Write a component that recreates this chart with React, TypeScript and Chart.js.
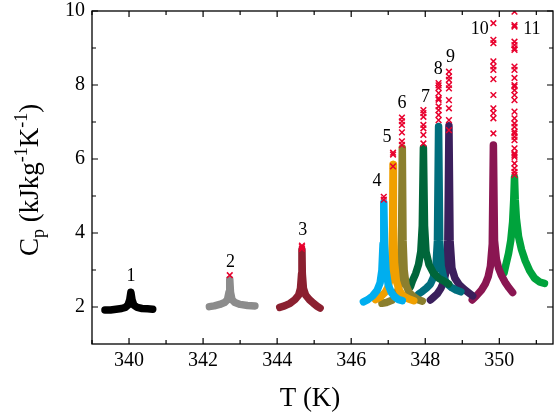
import { useEffect, useRef } from "react";
import { Chart, registerables } from "chart.js";

Chart.register(...registerables);

// Axis ticks
const xTicks = [340, 342, 344, 346, 348, 350];
const xMinorTicks = [339, 341, 343, 345, 347, 349, 351];
const yTicks = [2, 4, 6, 8, 10];
const yMinorTicks = [3, 5, 7, 9];

// Run labels and colours
const runLabels = ["1", "2", "3", "4", "5", "6", "7", "8", "9", "10", "11"];
const runColors = [
  "#000000", "#8c8c8c", "#8b2030", "#00aeef", "#f0a000", "#8b7f2e",
  "#00663a", "#006e7d", "#3b1f5c", "#8a1652", "#00a33c",
];

// Heat capacity curves: temperature (K) and Cp (kJ kg^-1 K^-1)
const t1 = [339.35, 339.5, 339.65, 339.8, 339.9, 339.97, 340.02, 340.05, 340.08, 340.13, 340.22, 340.35, 340.5, 340.64];
const cp1 = [1.92, 1.92, 1.94, 1.96, 1.99, 2.05, 2.2, 2.4, 2.2, 2.05, 1.99, 1.96, 1.95, 1.94];

const t2 = [342.17, 342.3, 342.45, 342.58, 342.66, 342.7, 342.72, 342.74, 342.78, 342.86, 343.0, 343.2, 343.4];
const cp2 = [2.01, 2.03, 2.07, 2.12, 2.2, 2.4, 2.75, 2.4, 2.2, 2.12, 2.07, 2.04, 2.03];

const t3 = [344.07, 344.2, 344.35, 344.48, 344.58, 344.63, 344.66, 344.67, 344.68, 344.71, 344.77, 344.87, 344.98, 345.08, 345.16];
const cp3 = [1.99, 2.03, 2.1, 2.2, 2.32, 2.5, 2.9, 3.55, 2.9, 2.5, 2.32, 2.2, 2.1, 2.02, 1.97];

const t4 = [346.33, 346.45, 346.58, 346.7, 346.78, 346.83, 346.86, 346.88, 346.9, 346.94, 347.0, 347.08, 347.17, 347.28, 347.38];
const cp4 = [2.14, 2.2, 2.3, 2.45, 2.65, 3.0, 3.7, 4.82, 3.7, 3.0, 2.6, 2.4, 2.28, 2.2, 2.17];

const t5 = [346.65, 346.8, 346.92, 347.0, 347.06, 347.1, 347.12, 347.13, 347.14, 347.17, 347.22, 347.3, 347.4, 347.55, 347.69];
const cp5 = [2.2, 2.28, 2.4, 2.55, 2.8, 3.3, 4.2, 5.85, 4.2, 3.2, 2.7, 2.45, 2.3, 2.22, 2.17];

const t6 = [346.83, 346.95, 347.1, 347.2, 347.28, 347.33, 347.36, 347.38, 347.4, 347.43, 347.48, 347.56, 347.66, 347.8, 347.92];
const cp6 = [2.1, 2.12, 2.18, 2.3, 2.5, 2.9, 3.8, 6.3, 3.8, 3.0, 2.6, 2.4, 2.3, 2.2, 2.16];

const t7 = [347.6, 347.66, 347.74, 347.82, 347.88, 347.92, 347.95, 347.98, 348.02, 348.1, 348.22, 348.36, 348.5, 348.63];
const cp7 = [2.55, 2.72, 2.9, 3.15, 3.5, 4.2, 6.3, 4.2, 3.5, 3.15, 2.92, 2.78, 2.7, 2.62];

const t8 = [347.82, 347.92, 348.04, 348.14, 348.22, 348.29, 348.33, 348.36, 348.39, 348.43, 348.5, 348.6, 348.72, 348.85, 348.96];
const cp8 = [2.35, 2.42, 2.52, 2.62, 2.8, 3.1, 3.8, 6.88, 3.8, 3.1, 2.78, 2.62, 2.52, 2.45, 2.41];

const t9 = [348.14, 348.22, 348.32, 348.42, 348.5, 348.57, 348.61, 348.64, 348.67, 348.72, 348.8, 348.92, 349.05, 349.18, 349.28];
const cp9 = [2.19, 2.26, 2.35, 2.5, 2.68, 3.0, 3.8, 6.9, 3.8, 3.05, 2.78, 2.6, 2.48, 2.38, 2.3];

const t10 = [349.27, 349.38, 349.52, 349.62, 349.7, 349.76, 349.81, 349.84, 349.87, 349.92, 349.98, 350.06, 350.15, 350.26, 350.36];
const cp10 = [2.19, 2.3, 2.46, 2.62, 2.82, 3.1, 3.7, 6.38, 3.8, 3.3, 3.05, 2.85, 2.68, 2.52, 2.39];

const t11 = [350.13, 350.18, 350.25, 350.31, 350.36, 350.39, 350.41, 350.43, 350.46, 350.52, 350.6, 350.7, 350.82, 350.95, 351.1, 351.22];
const cp11 = [2.93, 3.15, 3.45, 3.8, 4.3, 4.9, 5.5, 4.9, 4.4, 3.9, 3.55, 3.25, 2.98, 2.78, 2.67, 2.64];

// Points above the measured peak, marked with crosses
const crossT = [340.05, 342.72, 344.67, 346.88, 347.13, 347.37, 347.95, 348.36, 348.64, 349.84, 350.41];
const crossCp1: number[] = [];
const crossCp2 = [2.86];
const crossCp3 = [3.57, 3.62, 3.66];
const crossCp4 = [4.9, 4.98];
const crossCp5 = [5.8, 6.12, 6.17];
const crossCp6 = [6.38, 6.48, 6.72, 6.92, 7.02, 7.12];
const crossCp7 = [6.42, 6.65, 6.83, 6.92, 7.14, 7.24, 7.32];
const crossCp8 = [7.05, 7.19, 7.32, 7.42, 7.6, 7.64, 7.78, 7.92, 7.99, 8.05];
const crossCp9 = [6.78, 7.05, 7.37, 7.59, 7.91, 8.0, 8.14, 8.23, 8.36];
const crossCp10 = [6.69, 7.1, 7.24, 7.37, 7.73, 8.16, 8.41, 8.5, 8.64, 9.13, 9.22, 9.67];
const crossCp11 = [
  5.57, 5.65, 5.75, 5.88, 6.06, 6.11, 6.15, 6.29, 6.51, 6.6, 6.69, 6.74, 6.87, 6.96, 7.1, 7.28,
  7.59, 7.73, 7.86, 7.96, 8.0, 8.19, 8.41, 8.5, 8.95, 8.99, 9.08, 9.17, 9.58, 9.62, 9.98,
];

// Run number label positions (data coordinates)
const labelT = [340.05, 342.74, 344.69, 346.7, 346.97, 347.37, 348.01, 348.35, 348.68, 349.47, 350.88];
const labelCp = [2.82, 3.22, 4.08, 5.39, 6.6, 7.5, 7.68, 8.42, 8.75, 9.5, 9.5];

const curvesT = [t1, t2, t3, t4, t5, t6, t7, t8, t9, t10, t11];
const curvesCp = [cp1, cp2, cp3, cp4, cp5, cp6, cp7, cp8, cp9, cp10, cp11];
const crossesCp = [crossCp1, crossCp2, crossCp3, crossCp4, crossCp5, crossCp6, crossCp7, crossCp8, crossCp9, crossCp10, crossCp11];

const SERIF = '"Liberation Serif", "Times New Roman", serif';

const framePlugin = {
  id: "frameAndLabels",
  afterDatasetsDraw(chart: any) {
    const { ctx, chartArea: a, scales } = chart;
    const xs = scales.x;
    const ys = scales.y;
    ctx.save();
    ctx.strokeStyle = "#000";
    ctx.lineWidth = 1.3;
    ctx.strokeRect(a.left, a.top, a.right - a.left, a.bottom - a.top);

    ctx.lineWidth = 1.2;
    const vTick = (v: number, len: number) => {
      const px = xs.getPixelForValue(v);
      ctx.beginPath();
      ctx.moveTo(px, a.bottom);
      ctx.lineTo(px, a.bottom - len);
      ctx.moveTo(px, a.top);
      ctx.lineTo(px, a.top + len);
      ctx.stroke();
    };
    const hTick = (v: number, len: number) => {
      const py = ys.getPixelForValue(v);
      ctx.beginPath();
      ctx.moveTo(a.left, py);
      ctx.lineTo(a.left + len, py);
      ctx.moveTo(a.right, py);
      ctx.lineTo(a.right - len, py);
      ctx.stroke();
    };
    xTicks.forEach((v) => vTick(v, 6));
    xMinorTicks.forEach((v) => vTick(v, 4));
    yTicks.forEach((v) => hTick(v, 6));
    yMinorTicks.forEach((v) => hTick(v, 4));

    // run numbers
    ctx.fillStyle = "#000";
    ctx.font = `18px ${SERIF}`;
    ctx.textAlign = "center";
    ctx.textBaseline = "middle";
    runLabels.forEach((lab, i) => {
      ctx.fillText(lab, xs.getPixelForValue(labelT[i]), ys.getPixelForValue(labelCp[i]));
    });

    // x axis title
    ctx.font = `27px ${SERIF}`;
    ctx.textBaseline = "alphabetic";
    ctx.fillText("T (K)", 310, 406);

    // y axis title with subscript and superscripts
    const big = `27px ${SERIF}`;
    const small = `18px ${SERIF}`;
    const parts: [string, string, number][] = [
      ["C", big, 0],
      ["p", small, 6],
      [" (kJkg", big, 0],
      ["-1", small, -11],
      ["K", big, 0],
      ["-1", small, -11],
      [")", big, 0],
    ];
    let total = 0;
    const widths = parts.map(([s, f]) => {
      ctx.font = f;
      const w = ctx.measureText(s).width;
      total += w;
      return w;
    });
    ctx.translate(38, 180);
    ctx.rotate(-Math.PI / 2);
    ctx.textAlign = "left";
    let cx = -total / 2;
    parts.forEach(([s, f, dy], i) => {
      ctx.font = f;
      ctx.fillText(s, cx, dy);
      cx += widths[i];
    });
    ctx.restore();
  },
};

export default function App() {
  const canvasRef = useRef<HTMLCanvasElement | null>(null);

  useEffect(() => {
    if (!canvasRef.current) return;

    const crossPoints: { x: number; y: number }[] = [];
    crossesCp.forEach((list, i) => {
      list.forEach((v) => crossPoints.push({ x: crossT[i], y: v }));
    });

    const curveSets = curvesT.map((ts, i) => ({
      label: runLabels[i],
      data: ts.map((t, j) => ({ x: t, y: curvesCp[i][j] })),
      showLine: true,
      borderColor: runColors[i],
      backgroundColor: runColors[i],
      borderWidth: 7.5,
      borderJoinStyle: "round" as const,
      borderCapStyle: "round" as const,
      pointRadius: 0,
      tension: 0,
    }));

    const chart = new Chart(canvasRef.current, {
      type: "scatter",
      data: {
        datasets: [
          {
            label: "crosses",
            data: crossPoints,
            showLine: false,
            pointStyle: "crossRot",
            pointRadius: 4,
            borderWidth: 1.5,
            borderColor: "#e8002d",
            backgroundColor: "#e8002d",
          },
          ...curveSets,
        ],
      },
      plugins: [framePlugin],
      options: {
        animation: false,
        responsive: false,
        layout: { padding: { top: 11, right: 7, left: 0, bottom: 0 } },
        plugins: { legend: { display: false }, tooltip: { enabled: false } },
        scales: {
          x: {
            type: "linear",
            min: 339,
            max: 351.45,
            grid: { display: false, drawTicks: false },
            border: { display: false },
            afterBuildTicks: (s: any) => {
              s.ticks = xTicks.map((v) => ({ value: v }));
            },
            afterFit: (s: any) => {
              s.height = 69;
            },
            ticks: {
              color: "#000",
              padding: 7,
              maxRotation: 0,
              autoSkip: false,
              font: { family: SERIF, size: 20, lineHeight: 1 },
            },
          },
          y: {
            type: "linear",
            min: 1,
            max: 10,
            grid: { display: false, drawTicks: false },
            border: { display: false },
            afterBuildTicks: (s: any) => {
              s.ticks = yTicks.map((v) => ({ value: v }));
            },
            afterFit: (s: any) => {
              s.width = 92;
            },
            ticks: {
              color: "#000",
              padding: 7,
              autoSkip: false,
              font: { family: SERIF, size: 20, lineHeight: 0.4 },
            },
          },
        },
      },
    });
    return () => chart.destroy();
  }, []);

  return (
    <div style={{ position: "fixed", left: 0, top: 0, width: 560, height: 413, background: "#fff" }}>
      <canvas ref={canvasRef} width={560} height={413} />
    </div>
  );
}
